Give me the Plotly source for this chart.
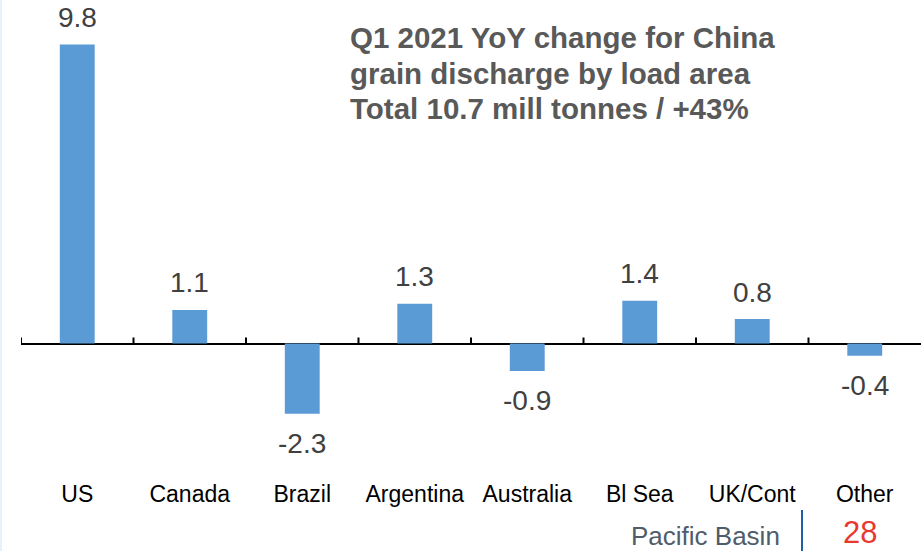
import plotly.graph_objects as go

# Q1 2021 YoY change in China grain discharge, by load area (mill tonnes)
categories = ["US", "Canada", "Brazil", "Argentina", "Australia", "Bl Sea", "UK/Cont", "Other"]
yoy_change = [9.8, 1.1, -2.3, 1.3, -0.9, 1.4, 0.8, -0.4]
value_labels = ["9.8", "1.1", "-2.3", "1.3", "-0.9", "1.4", "0.8", "-0.4"]
title_lines = [
    "Q1 2021 YoY change for China",
    "grain discharge by load area",
    "Total 10.7 mill tonnes / +43%",
]
footer_text = "Pacific Basin"
page_number = "28"

W, H = 921, 551
ML, MR, MT, MB = 21, 0, 0, 73
PW, PH = W - ML - MR, H - MT - MB
ZERO_PX = 343.5          # vertical pixel of the zero line
PX_PER_UNIT = 30.5

y_top = (ZERO_PX - MT) / PX_PER_UNIT
y_bot = -(MT + PH - ZERO_PX) / PX_PER_UNIT


def px(x):
    return (x - ML) / PW


def py(y):
    return (MT + PH - y) / PH


FONT = "Liberation Sans, Arial, sans-serif"

fig = go.Figure(
    go.Bar(
        x=categories,
        y=yoy_change,
        width=0.31,
        marker=dict(color="#5B9BD5", line=dict(width=0)),
        hoverinfo="skip",
    )
)

annotations = []
for cat, val, lab in zip(categories, yoy_change, value_labels):
    annotations.append(dict(
        x=cat, y=val, xref="x", yref="y", text=lab, showarrow=False,
        yanchor="middle", yshift=27 if val >= 0 else -30,
        font=dict(family=FONT, size=28, color="#404040"),
    ))

for i, line in enumerate(title_lines):
    annotations.append(dict(
        x=px(348), y=py(37.5 + 35.5 * i), xref="paper", yref="paper",
        xanchor="left", yanchor="middle", text="<b>%s</b>" % line,
        showarrow=False, font=dict(family=FONT, size=29.5, color="#595959"),
    ))

annotations.append(dict(
    x=px(782), y=py(536), xref="paper", yref="paper", xanchor="right",
    yanchor="middle", text=footer_text, showarrow=False,
    font=dict(family=FONT, size=26, color="#4F5D6B"),
))
annotations.append(dict(
    x=px(860), y=py(532), xref="paper", yref="paper", xanchor="center",
    yanchor="middle", text=page_number, showarrow=False,
    font=dict(family=FONT, size=31, color="#E8392F"),
))

shapes = []
# small upward ticks on the category boundaries of the zero axis
for i in range(len(categories)):
    shapes.append(dict(
        type="line", xref="x", yref="y", x0=i - 0.5, x1=i - 0.5,
        y0=0, y1=6 / PX_PER_UNIT, line=dict(color="black", width=2),
    ))
# footer divider
shapes.append(dict(
    type="line", xref="paper", yref="paper", x0=px(802), x1=px(802),
    y0=py(510), y1=py(H), line=dict(color="#1F5FA8", width=2),
))
# thin tinted strip along the left page edge
shapes.append(dict(
    type="rect", xref="paper", yref="paper", x0=px(0), x1=px(2),
    y0=py(H), y1=py(0), line=dict(width=0), fillcolor="#E6F1FC",
))

fig.update_layout(
    width=W, height=H,
    margin=dict(l=ML, r=MR, t=MT, b=MB),
    paper_bgcolor="white", plot_bgcolor="white",
    showlegend=False,
    xaxis=dict(
        type="category", range=[-0.5, len(categories) - 0.5],
        showline=False, showgrid=False, ticks="",
        tickfont=dict(family=FONT, size=23, color="black"),
        fixedrange=True,
    ),
    yaxis=dict(
        range=[y_bot, y_top], showgrid=False, showticklabels=False,
        showline=False, zeroline=True, zerolinecolor="black",
        zerolinewidth=2, fixedrange=True,
    ),
    annotations=annotations,
    shapes=shapes,
)

fig.write_html("out.html")
